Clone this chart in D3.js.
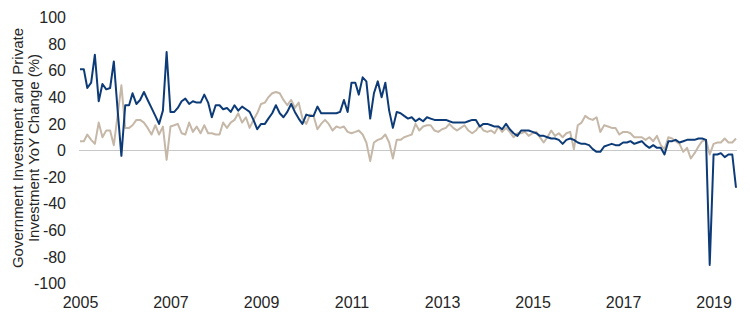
<!DOCTYPE html>
<html>
<head>
<meta charset="utf-8">
<script src="https://cdn.jsdelivr.net/npm/d3@7"></script>
<style>
  body { margin: 0; background: #fff; }
  text { font-family: "Liberation Sans", Arial, sans-serif; }
</style>
</head>
<body>
<svg></svg>
<script>
var w = 750;
var h = 321;

// monthly YoY change (%), Jan 2005 onwards
var startDate = new Date(2005, 0, 1);

var govInvestment = [
	61, 61, 47, 51, 72, 37, 50, 46, 47, 67, 30, -4,
	34, 34, 43, 35, 38, 44, 38, 32, 26, 20, 30, 74,
	29, 29, 32, 37, 39, 35, 37, 36, 36, 42, 36, 25,
	34, 34, 31, 32, 29, 34, 30, 33, 31, 29, 23, 16,
	20, 20, 24, 28, 34, 28, 25, 29, 35, 29, 24, 20,
	27, 26, 26, 33, 28, 28, 28, 28, 28, 29, 38, 29,
	51, 51, 42, 55, 52, 24, 43, 52, 40, 51, 30, 17,
	29, 28, 26, 24, 25, 22, 24, 22, 25, 24, 23, 23,
	23, 23, 22, 21, 21, 21, 21, 22, 23, 23, 18, 20,
	20, 19, 18, 18, 16, 20, 16, 13, 11, 15, 15, 15,
	14, 13, 11, 11, 10, 9, 9, 8, 5, 8, 9, 8,
	6, 5, 5, 4, 1, -1, -1, 3, 4, 5, 4, 4,
	6, 6, 7, 5, 6, 7, 4, 2, 4, 2, 2, -3,
	7, 7, 8, 6, 7, 8, 8, 8, 9, 9, 8, -86,
	-3, -3, -2, -5, -3, -3, -28
];

var privateInvestment = [
	7, 7, 12, 8, 5, 21, 10, 15, 15, 4, 27, 49,
	17, 17, 19, 23, 23, 21, 17, 12, 19, 12, 18, -7,
	18, 19, 20, 13, 12, 21, 14, 18, 13, 19, 13, 13,
	12, 12, 21, 17, 21, 23, 28, 21, 25, 17, 23, 28,
	35, 36, 40, 43, 44, 43, 38, 34, 38, 32, 36, 24,
	20, 27, 26, 16, 20, 23, 20, 15, 18, 17, 18, 14,
	13, 14, 15, 12, 6, -8, 6, 8, 9, 12, 6, -6,
	8, 8, 10, 11, 12, 20, 15, 18, 19, 19, 15, 14,
	16, 17, 20, 17, 15, 17, 19, 15, 13, 15, 19, 15,
	14, 15, 13, 18, 14, 17, 14, 10, 13, 13, 14, 11,
	13, 14, 10, 6, 10, 15, 11, 13, 10, 13, 14, 1,
	19, 21, 26, 24, 23, 25, 14, 19, 18, 17, 17, 12,
	14, 14, 13, 10, 10, 10, 8, 10, 7, 11, 4, 1,
	10, 9, 7, 5, -1, 2, -6, -2, 3, 7, 8, -3,
	5, 6, 6, 9, 6, 6, 9
];

var yTicks = [100, 80, 60, 40, 20, 0, -20, -40, -60, -80, -100];
var xTickYears = [2005, 2007, 2009, 2011, 2013, 2015, 2017, 2019];
var titleLines = ["Government Investment and Private", "Investment YoY Change (%)"];

var navy = "#0d3b77";
var tan = "#c6b8a8";
var textColor = "#262626";

var canvas = d3.select("svg")
	.attr("width", w)
	.attr("height", h)
	.style("background-color", "white");

function toSeries(values) {
	return values.map(function (v, i) {
		return { date: d3.timeMonth.offset(startDate, i), value: v };
	});
}

var govData = toSeries(govInvestment);
var privData = toSeries(privateInvestment);

var x = d3.scaleTime()
	.domain([startDate, d3.timeMonth.offset(startDate, 174)])
	.range([80, 736]);

var y = d3.scaleLinear()
	.domain([-100, 100])
	.range([283.5, 17.5]);

// y axis labels
var yAxis = d3.axisLeft(y)
	.tickValues(yTicks)
	.tickFormat(function (d) { return String(d); })
	.tickSize(0)
	.tickPadding(0);

canvas.append("g")
	.attr("transform", "translate(66,0)")
	.call(yAxis)
	.call(function (g) { g.select(".domain").remove(); })
	.selectAll("text")
	.attr("fill", textColor)
	.style("font-size", "16px");

// x axis labels
var xAxis = d3.axisBottom(x)
	.tickValues(xTickYears.map(function (yr) { return new Date(yr, 0, 1); }))
	.tickFormat(d3.timeFormat("%Y"))
	.tickSize(0)
	.tickPadding(0);

canvas.append("g")
	.attr("transform", "translate(0,297)")
	.call(xAxis)
	.call(function (g) { g.select(".domain").remove(); })
	.selectAll("text")
	.attr("fill", textColor)
	.style("font-size", "16px");

// zero line
canvas.append("line")
	.attr("x1", 79)
	.attr("x2", 737)
	.attr("y1", y(0))
	.attr("y2", y(0))
	.attr("stroke", "#c8c8c8")
	.attr("stroke-width", 1);

// y title
canvas.append("text")
	.attr("transform", "translate(18,148) rotate(-90)")
	.attr("text-anchor", "middle")
	.attr("fill", textColor)
	.style("font-size", "15px")
	.selectAll("tspan")
	.data(titleLines)
	.join("tspan")
	.attr("x", 0)
	.attr("dy", function (d, i) { return i === 0 ? "0.35em" : "16px"; })
	.text(function (d) { return d; });

var line = d3.line()
	.x(function (d) { return x(d.date); })
	.y(function (d) { return y(d.value); });

canvas.append("path")
	.datum(privData)
	.attr("d", line)
	.attr("fill", "none")
	.attr("stroke", tan)
	.attr("stroke-width", 2)
	.attr("stroke-linejoin", "round");

canvas.append("path")
	.datum(govData)
	.attr("d", line)
	.attr("fill", "none")
	.attr("stroke", navy)
	.attr("stroke-width", 2)
	.attr("stroke-linejoin", "round");
</script>
</body>
</html>
